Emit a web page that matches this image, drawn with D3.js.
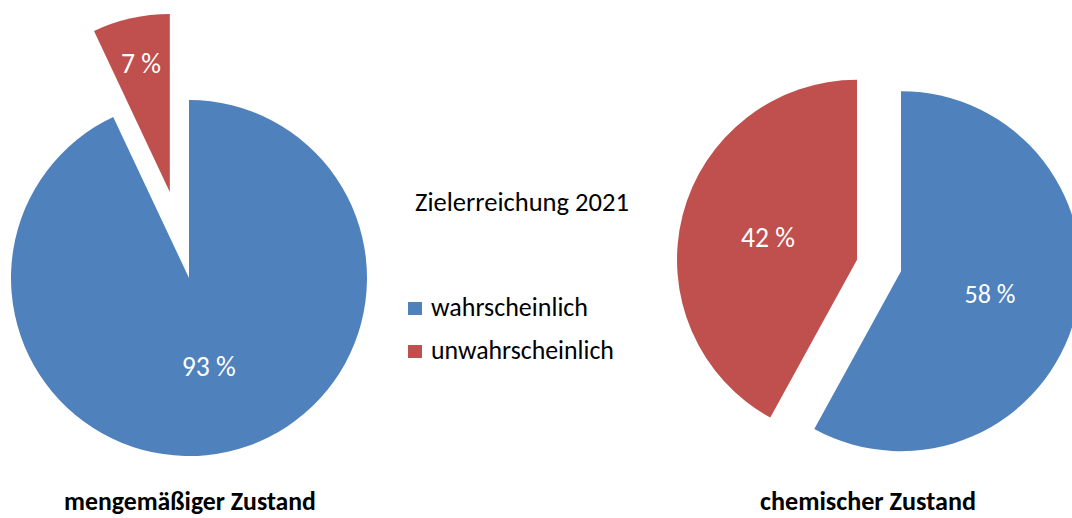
<!DOCTYPE html>
<html>
<head>
<meta charset="utf-8">
<script src="https://cdn.jsdelivr.net/npm/d3@7"></script>
<style>
  html, body { margin: 0; padding: 0; background: #fff; }
  svg { display: block; }
  text { font-family: Carlito, Calibri, Lato, "Open Sans", sans-serif; }
</style>
</head>
<body>
<svg id="chart" width="1072" height="518"></svg>
<script>
// ---- data ----
const categories = ["wahrscheinlich", "unwahrscheinlich"];
const mengeValues = [93, 7];
const chemValues = [58, 42];
const pieTitles = ["mengemäßiger Zustand", "chemischer Zustand"];
const chartTitle = "Zielerreichung 2021";
const colors = ["#4F81BD", "#C0504D"];

const svg = d3.select("#chart");
const color = d3.scaleOrdinal().domain(categories).range(colors);

// fit a text element's font size so its rendered width matches a target width
function fitText(sel, targetWidth) {
  const node = sel.node();
  const base = 20;
  sel.style("font-size", base + "px");
  const w = node.getComputedTextLength();
  sel.style("font-size", (base * targetWidth / w).toFixed(2) + "px");
}

const pieGen = d3.pie().sort(null).value(d => d.value).startAngle(0).endAngle(2 * Math.PI);

const pies = [
  { values: mengeValues, cx: 189, cy: 278, r: 178, explode: [0, 88], title: pieTitles[0], titleX: 190, titleW: 252 },
  { values: chemValues, cx: 879, cy: 265.5, r: 180, explode: [22.7, 22.7], title: pieTitles[1], titleX: 868, titleW: 216 }
];

const labelW = { "93": 54, "7": 40, "58": 51, "42": 54 };

pies.forEach(p => {
  const data = pieGen(categories.map((c, i) => ({ cat: c, value: p.values[i] })));
  const arc = d3.arc().innerRadius(0).outerRadius(p.r);
  const g = svg.append("g").attr("transform", `translate(${p.cx},${p.cy})`);
  data.forEach((d, i) => {
    const mid = (d.startAngle + d.endAngle) / 2;
    const ex = p.explode[i];
    const dx = Math.sin(mid) * ex, dy = -Math.cos(mid) * ex;
    const sg = g.append("g").attr("transform", `translate(${dx},${dy})`);
    sg.append("path").attr("d", arc(d)).attr("fill", color(d.data.cat));
    const lr = d.data.value < 10 ? 0.74 * p.r : 0.51 * p.r;
    const lx = Math.sin(mid) * lr, ly = -Math.cos(mid) * lr;
    const t = sg.append("text")
      .attr("x", lx).attr("y", ly)
      .attr("text-anchor", "middle")
      .attr("dominant-baseline", "central")
      .attr("fill", "#fff")
      .text(d.data.value + " %");
    fitText(t, labelW[d.data.value]);
  });
  const tt = svg.append("text")
    .attr("x", p.titleX).attr("y", 510)
    .attr("text-anchor", "middle")
    .attr("font-weight", "bold")
    .attr("fill", "#000")
    .text(p.title);
  fitText(tt, p.titleW);
});

// title
const title = svg.append("text")
  .attr("x", 415).attr("y", 211)
  .attr("fill", "#000")
  .text(chartTitle);
fitText(title, 214);

// legend
const legendW = [157, 183];
const legend = svg.append("g").attr("transform", "translate(408,302)");
categories.forEach((c, i) => {
  const row = legend.append("g").attr("transform", `translate(0,${i * 43})`);
  row.append("rect").attr("width", 14).attr("height", 13).attr("fill", color(c));
  const t = row.append("text").attr("x", 23).attr("y", 14).attr("fill", "#000").text(c);
  fitText(t, legendW[i]);
});
</script>
</body>
</html>
